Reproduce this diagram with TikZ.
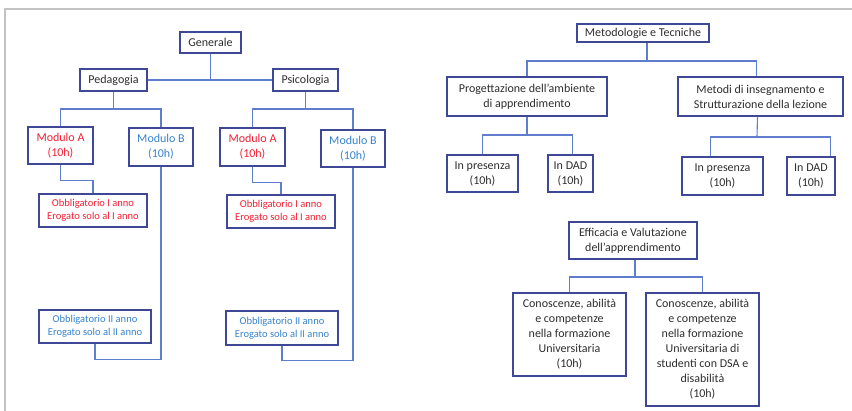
\documentclass[tikz,border=0pt]{standalone}
\usepackage{fontspec}
\setmainfont{Carlito}
\usepackage{tikz}
\usetikzlibrary{positioning}
\definecolor{boxline}{RGB}{62,72,150}
\definecolor{linkline}{RGB}{95,125,205}
\definecolor{txtgray}{RGB}{45,45,45}
\definecolor{modred}{RGB}{245,30,50}
\definecolor{modblue}{RGB}{55,130,205}
\definecolor{framegray}{RGB}{195,195,195}

\begin{document}
\begin{tikzpicture}[x=1pt,y=-1pt,
    box/.style={draw=boxline,line width=1.1pt,inner sep=0pt,align=center,
      text=txtgray,font=\fontsize{12}{15}\selectfont},
    smallbox/.style={box,font=\fontsize{10.5}{13}\selectfont},
    link/.style={draw=linkline,line width=1.1pt}]
  \useasboundingbox (0,0) rectangle (852,411);
  \draw[framegray,line width=1.4pt] (5,411) -- (5,9) -- (852,9);

  % Generale
  \node[box,minimum width=61pt,minimum height=21pt] (gen) at (210.5,42.5) {Generale};
  \node[box,minimum width=67pt,minimum height=22pt] (ped) at (113.5,80) {Pedagogia};
  \node[box,minimum width=65pt,minimum height=22pt] (psi) at (305.5,80) {Psicologia};

  \node[box,text=modred,minimum width=65pt,minimum height=37pt] (modAped) at (60.5,145.5) {Modulo A\\(10h)};
  \node[box,text=modblue,minimum width=64pt,minimum height=38pt] (modBped) at (161,147) {Modulo B\\(10h)};
  \node[box,text=modred,minimum width=65pt,minimum height=38pt] (modApsi) at (252.5,147) {Modulo A\\(10h)};
  \node[box,text=modblue,minimum width=64pt,minimum height=37pt] (modBpsi) at (353,148.5) {Modulo B\\(10h)};

  \node[smallbox,text=modred,minimum width=108pt,minimum height=33pt] (obIped) at (93,210.5) {Obbligatorio I anno\\Erogato solo al I anno};
  \node[smallbox,text=modred,minimum width=108pt,minimum height=33pt] (obIpsi) at (281,211.5) {Obbligatorio I anno\\Erogato solo al I anno};
  \node[smallbox,text=modblue,minimum width=112pt,minimum height=33pt] (obIIped) at (95,326.5) {Obbligatorio II anno\\Erogato solo al II anno};
  \node[smallbox,text=modblue,minimum width=112pt,minimum height=34pt] (obIIpsi) at (282,328) {Obbligatorio II anno\\Erogato solo al II anno};

  \coordinate (pedfork) at (113.5,109);
  \coordinate (psifork) at (305.5,109);

  \draw[link] (ped.east) -- (psi.west);
  \draw[link] (gen.south) -- (gen.south |- ped.east);
  \draw[link] (ped.south) -- (pedfork);
  \draw[link] (modAped.north) |- (pedfork) -| (modBped.north);
  \draw[link] (psi.south) -- (psifork);
  \draw[link] (modApsi.north) |- (psifork) -| (modBpsi.north);
  \draw[link] (modAped.south) -- ++(0,16) -| (obIped.north);
  \draw[link] (modApsi.south) -- ++(0,16) -| (obIpsi.north);
  \draw[link] (modBped.south) -- ++(0,193) -| (obIIped.south);
  \draw[link] (modBpsi.south) -- ++(0,193) -| (obIIpsi.south);

  % Metodologie e Tecniche
  \node[box,minimum width=132pt,minimum height=18pt] (met) at (643,33) {Metodologie e Tecniche};
  \node[box,minimum width=160pt,minimum height=39pt] (prog) at (527,96.5) {Progettazione dell'ambiente\\di apprendimento};
  \node[box,minimum width=165pt,minimum height=39pt] (meto) at (760.5,96.5) {Metodi di insegnamento e\\Strutturazione della lezione};
  \node[box,minimum width=71pt,minimum height=37pt] (presA) at (482.5,173.5) {In presenza\\(10h)};
  \node[box,minimum width=45pt,minimum height=37pt] (dadA) at (570.5,173.5) {In DAD\\(10h)};
  \node[box,minimum width=81pt,minimum height=38pt] (presB) at (722.5,176) {In presenza\\(10h)};
  \node[box,minimum width=48pt,minimum height=38pt] (dadB) at (811,176) {In DAD\\(10h)};

  \coordinate (metfork) at (647,61);
  \coordinate (progfork) at (527,135);
  \coordinate (metofork) at (757,137);

  \draw[link] ([xshift=4pt]met.south) -- (metfork);
  \draw[link] (prog.north) |- (metfork) -| ([xshift=-4pt]meto.north);
  \draw[link] (prog.south) -- (progfork);
  \draw[link] (presA.north) |- (progfork) -| ([xshift=2pt]dadA.north);
  \draw[link] ([xshift=-3pt]meto.south) -- (metofork);
  \draw[link] ([xshift=-12pt]presB.north) |- (metofork) -| ([xshift=-5pt]dadB.north east);

  % Efficacia e Valutazione
  \node[box,minimum width=128pt,minimum height=37pt] (eff) at (633,240.5) {Efficacia e Valutazione\\dell'apprendimento};
  \node[box,minimum width=113pt,minimum height=83pt] (conA) at (569.5,334.5) {Conoscenze, abilità\\e competenze\\nella formazione\\Universitaria\\(10h)};
  \node[box,minimum width=113pt,minimum height=113pt] (conB) at (702.5,349.5) {Conoscenze, abilità\\e competenze\\nella formazione\\Universitaria di\\studenti con DSA e\\disabilità\\(10h)};

  \coordinate (efffork) at (635,277);
  \draw[link] ([xshift=2pt]eff.south) -- (efffork);
  \draw[link] (conA.north) |- (efffork) -| (conB.north);
\end{tikzpicture}
\end{document}
